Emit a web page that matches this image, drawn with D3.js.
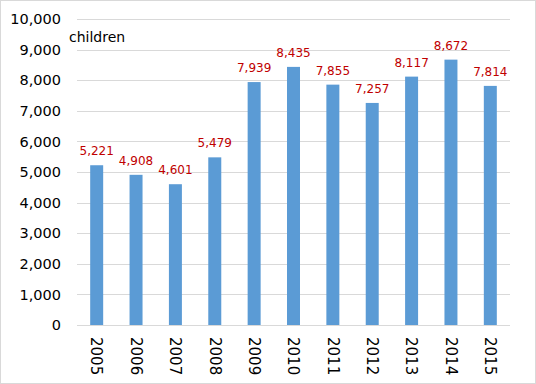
<!DOCTYPE html>
<html>
<head>
<meta charset="utf-8">
<script src="https://cdn.jsdelivr.net/npm/d3@7/dist/d3.min.js"></script>
<style>
    body { margin: 0; background: #fff; }
    text { font-family: "DejaVu Sans", "Liberation Sans", sans-serif; }
</style>
</head>
<body>
<div id="chart"></div>
<script>
    "use strict";
    const years = ["2005", "2006", "2007", "2008", "2009", "2010", "2011", "2012", "2013", "2014", "2015"];
    const children = [5221, 4908, 4601, 5479, 7939, 8435, 7855, 7257, 8117, 8672, 7814];
    const yTicks = [0, 1000, 2000, 3000, 4000, 5000, 6000, 7000, 8000, 9000, 10000];

    const width = 536, height = 384;
    const margin = {top: 19, right: 26, bottom: 59, left: 77};

    const bar_color = "#5b9bd5",
        grid_color = "#d9d9d9",
        label_color = "#c00000";

    let svg = d3.select("#chart")
        .append("svg")
        .attr("width", width)
        .attr("height", height);

    // 外框
    svg.append("rect")
        .attr("x", 0.5).attr("y", 0.5)
        .attr("width", width - 1).attr("height", height - 1)
        .attr("fill", "#fff")
        .attr("stroke", "#d9d9d9");

    let x = d3.scaleBand()
        .domain(years)
        .range([margin.left, width - margin.right])
        .paddingInner(0.67)
        .paddingOuter(0.335);

    let y = d3.scaleLinear()
        .domain([0, 10000])
        .range([height - margin.bottom, margin.top]);

    // 网格线
    svg.append("g")
        .selectAll("line")
        .data(yTicks)
        .enter()
        .append("line")
        .attr("x1", margin.left)
        .attr("x2", width - margin.right)
        .attr("y1", d => Math.round(y(d)) + 0.5)
        .attr("y2", d => Math.round(y(d)) + 0.5)
        .attr("stroke", grid_color);

    // y 轴
    let yAxis = svg.append("g")
        .attr("transform", `translate(${margin.left - 16},0)`)
        .call(d3.axisLeft(y).tickValues(yTicks).tickFormat(d3.format(",")).tickSize(0).tickPadding(0));
    yAxis.select(".domain").remove();
    yAxis.selectAll("text")
        .style("font-family", "DejaVu Sans")
        .style("font-size", "14.5px")
        .attr("fill", "#000");

    // x 轴
    let xAxis = svg.append("g")
        .attr("transform", `translate(0,${height - margin.bottom})`)
        .call(d3.axisBottom(x).tickSize(0));
    xAxis.select(".domain").remove();
    xAxis.selectAll("text")
        .style("font-family", "DejaVu Sans")
        .style("font-size", "15px")
        .attr("fill", "#000")
        .attr("transform", "rotate(90)")
        .attr("x", 12)
        .attr("y", 0)
        .attr("dy", "0.35em")
        .style("text-anchor", "start");

    // 柱
    svg.append("g")
        .selectAll("rect")
        .data(children)
        .enter()
        .append("rect")
        .attr("x", (d, i) => x(years[i]))
        .attr("y", d => y(d))
        .attr("width", x.bandwidth())
        .attr("height", d => y(0) - y(d))
        .attr("fill", bar_color);

    // 数据标签
    svg.append("g")
        .selectAll("text")
        .data(children)
        .enter()
        .append("text")
        .attr("x", (d, i) => x(years[i]) + x.bandwidth() / 2)
        .attr("y", d => y(d) - 10)
        .attr("text-anchor", "middle")
        .attr("fill", label_color)
        .style("font-size", "12px")
        .text(d => d3.format(",")(d));

    svg.append("text")
        .attr("x", 69)
        .attr("y", 42)
        .style("font-size", "14px")
        .attr("fill", "#000")
        .text("children");
</script>
</body>
</html>
